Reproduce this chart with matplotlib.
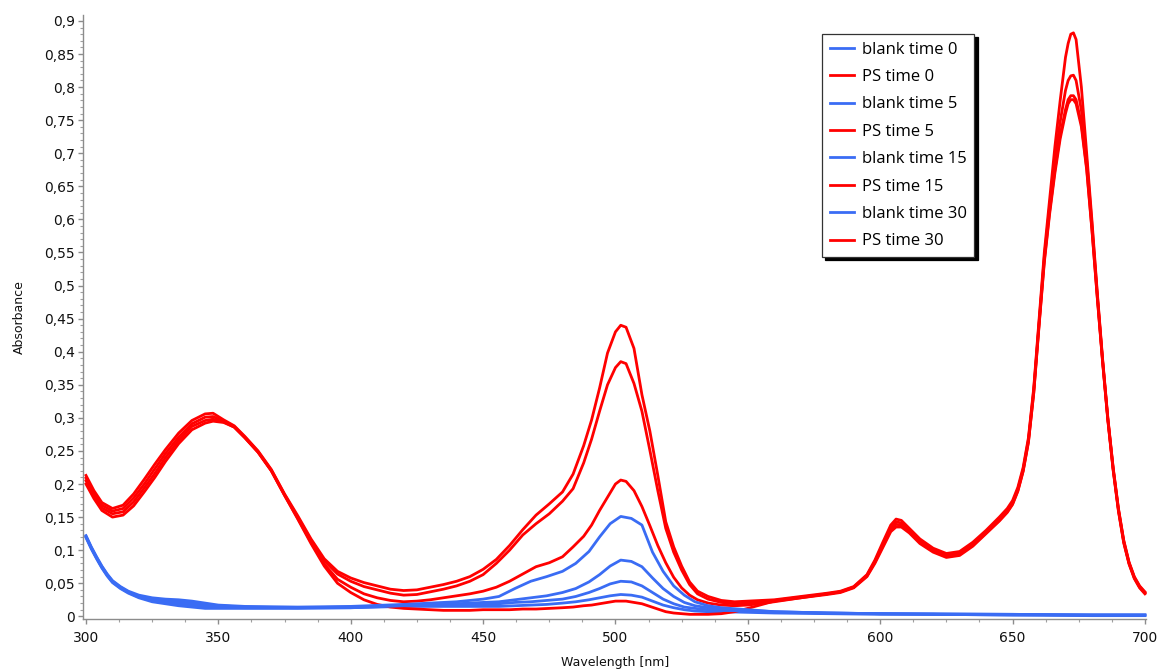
import matplotlib
matplotlib.use("Agg")
import matplotlib.pyplot as plt
from matplotlib.ticker import MultipleLocator, FuncFormatter

# ---------------- data ----------------
wl_blank = [300, 302, 304, 306, 308, 310, 313, 316, 320, 325,
            330, 335, 340, 345, 350, 360, 380, 400, 420, 430,
            440, 450, 456, 462, 468, 474, 480, 485, 490, 494,
            498, 502, 506, 510, 514, 518, 522, 526, 530, 535,
            540, 550, 560, 580, 600, 620, 650, 680, 700]

blank_t0 = [.119, .102, .087, .073, .061, .051, .042, .035, .028, .022,
            .019, .016, .014, .012, .012, .012, .012, .013, .015, .015,
            .015, .015, .015, .016, .017, .018, .020, .022, .025, .028,
            .031, .033, .032, .029, .023, .017, .013, .010, .008, .007,
            .007, .006, .005, .004, .003, .003, .002, .001, .001]
blank_t5 = [.120, .103, .088, .074, .062, .052, .043, .036, .029, .024,
            .021, .019, .017, .015, .014, .013, .013, .013, .016, .017,
            .017, .018, .019, .021, .022, .024, .026, .030, .036, .042,
            .049, .053, .052, .046, .036, .026, .019, .014, .012, .010,
            .009, .008, .006, .005, .004, .003, .002, .002, .002]
blank_t15 = [.121, .104, .089, .075, .063, .053, .044, .037, .030, .026,
             .024, .022, .020, .018, .016, .014, .013, .014, .017, .018,
             .019, .021, .022, .025, .028, .031, .036, .042, .052, .063,
             .076, .085, .083, .075, .058, .042, .030, .021, .016, .013,
             .011, .009, .007, .005, .004, .003, .003, .002, .002]
blank_t30 = [.122, .105, .090, .076, .064, .054, .045, .038, .032, .028,
             .026, .025, .023, .020, .017, .015, .014, .015, .018, .020,
             .022, .026, .030, .042, .053, .060, .068, .080, .098, .120,
             .140, .151, .148, .138, .097, .068, .046, .032, .022, .016,
             .013, .010, .007, .005, .004, .004, .003, .002, .002]

wl_ps = [300, 303, 306, 310, 314, 318, 322, 326, 330, 335,
         340, 345, 348, 352, 356, 360, 365, 370, 375, 380,
         385, 390, 395, 400, 405, 410, 415, 420, 425, 430,
         435, 440, 445, 450, 455, 460, 465, 470, 475, 480,
         484, 488, 491, 494, 497, 500, 502, 504, 507, 510,
         513, 516, 519, 522, 525, 528, 531, 535, 540, 545,
         550, 560, 570, 580, 585, 590, 595, 598, 601, 604,
         606, 608, 611, 615, 620, 625, 630, 635, 640, 645,
         648, 650, 652, 654, 656, 658, 660, 662, 664, 666,
         668, 670, 671, 672, 673, 674, 676, 678, 680, 682,
         684, 686, 688, 690, 692, 694, 696, 698, 700]

ps_t0 = [.200, .178, .160, .150, .153, .167, .188, .210, .234, .261,
         .282, .292, .295, .293, .286, .270, .248, .220, .183, .147,
         .110, .076, .050, .036, .025, .018, .014, .012, .011, .010,
         .009, .009, .009, .010, .010, .010, .011, .011, .012, .013,
         .014, .016, .017, .019, .021, .023, .023, .023, .021, .019,
         .015, .011, .007, .005, .004, .003, .003, .003, .004, .007,
         .012, .023, .028, .033, .036, .043, .060, .080, .104, .128,
         .135, .135, .126, .110, .097, .089, .092, .106, .125, .144,
         .157, .169, .189, .219, .263, .337, .438, .535, .608, .670,
         .722, .760, .775, .781, .781, .775, .740, .675, .583, .482,
         .385, .296, .221, .159, .111, .079, .057, .043, .034]
ps_t5 = [.205, .182, .164, .155, .158, .173, .194, .216, .240, .266,
         .287, .296, .298, .294, .286, .270, .248, .220, .183, .148,
         .112, .079, .056, .044, .034, .028, .024, .022, .023, .025,
         .028, .031, .034, .038, .044, .053, .064, .075, .081, .090,
         .105, .121, .138, .160, .180, .200, .206, .204, .190, .166,
         .137, .107, .081, .059, .043, .032, .025, .020, .017, .016,
         .017, .022, .028, .034, .037, .044, .061, .082, .107, .131,
         .139, .138, .128, .112, .099, .091, .094, .108, .126, .145,
         .158, .170, .190, .220, .264, .338, .440, .538, .612, .675,
         .728, .766, .781, .787, .787, .781, .745, .678, .585, .483,
         .386, .297, .222, .160, .112, .080, .058, .044, .035]
ps_t15 = [.209, .186, .168, .159, .163, .179, .200, .223, .246, .271,
          .291, .301, .302, .295, .287, .271, .249, .221, .184, .150,
          .115, .084, .064, .053, .045, .040, .035, .032, .033, .037,
          .041, .046, .053, .063, .080, .100, .123, .140, .155, .174,
          .193, .232, .268, .310, .350, .376, .385, .382, .352, .310,
          .251, .190, .133, .097, .070, .048, .034, .026, .021, .019,
          .020, .024, .029, .034, .037, .044, .062, .083, .109, .134,
          .143, .141, .130, .114, .101, .093, .096, .110, .128, .147,
          .160, .172, .192, .222, .267, .342, .443, .543, .620, .690,
          .748, .795, .810, .817, .818, .810, .765, .690, .592, .487,
          .388, .299, .224, .162, .114, .081, .059, .045, .036]
ps_t30 = [.213, .190, .172, .163, .168, .185, .207, .230, .252, .277,
          .296, .306, .307, .297, .288, .272, .250, .222, .185, .152,
          .117, .087, .068, .058, .051, .046, .041, .039, .040, .044,
          .048, .053, .060, .071, .086, .107, .131, .153, .170, .188,
          .215, .258, .297, .345, .398, .430, .440, .437, .405, .335,
          .280, .213, .143, .105, .076, .052, .038, .030, .024, .022,
          .023, .025, .030, .035, .038, .045, .063, .085, .112, .138,
          .147, .145, .133, .117, .103, .095, .098, .112, .130, .150,
          .163, .175, .195, .225, .270, .345, .448, .550, .630, .710,
          .780, .845, .866, .880, .882, .872, .800, .700, .598, .490,
          .390, .300, .225, .163, .115, .082, .060, .046, .037]

labels = ["blank time 0", "PS time 0", "blank time 5", "PS time 5",
          "blank time 15", "PS time 15", "blank time 30", "PS time 30"]

# ---------------- figure ----------------
BLUE = "#3a6cf4"
RED = "#ff0000"
W, H = 1165, 671
fig = plt.figure(figsize=(W / 100, H / 100), dpi=100)
ax = fig.add_axes([83 / W, 1 - 619.3 / H, (1146.5 - 83) / W, (619.3 - 15) / H])

series = [
    (wl_blank, blank_t0, BLUE), (wl_ps, ps_t0, RED),
    (wl_blank, blank_t5, BLUE), (wl_ps, ps_t5, RED),
    (wl_blank, blank_t15, BLUE), (wl_ps, ps_t15, RED),
    (wl_blank, blank_t30, BLUE), (wl_ps, ps_t30, RED),
]
for (x, y, c), lab in zip(series, labels):
    ax.plot(x, y, color=c, lw=2.0, label=lab, solid_joinstyle="round")

ax.set_xlim(298.87, 700.6)
ax.set_ylim(-0.0045, 0.909)

ax.xaxis.set_major_locator(MultipleLocator(50))
ax.xaxis.set_minor_locator(MultipleLocator(12.5))
ax.yaxis.set_major_locator(MultipleLocator(0.05))
ax.yaxis.set_minor_locator(MultipleLocator(0.01))


def comma_fmt(v, pos):
    s = "%g" % round(v, 3)
    return s.replace(".", ",")


ax.yaxis.set_major_formatter(FuncFormatter(comma_fmt))
ax.xaxis.set_major_formatter(FuncFormatter(lambda v, p: "%d" % round(v)))

for s in ["top", "right"]:
    ax.spines[s].set_visible(False)
for s in ["left", "bottom"]:
    ax.spines[s].set_color("#8c8c8c")
    ax.spines[s].set_linewidth(1.0)

ax.tick_params(axis="both", which="major", direction="out", length=3.5,
               width=1.0, color="#8c8c8c", labelsize=10, labelcolor="#111111")
ax.tick_params(axis="both", which="minor", direction="out", length=2,
               width=0.8, color="#a0a0a0")
ax.tick_params(axis="x", which="major", pad=5)
ax.tick_params(axis="y", which="major", pad=2.5)

ax.set_xlabel("Wavelength [nm]", fontsize=9, labelpad=7.5, color="#111111")
ax.set_ylabel("Absorbance", fontsize=9, labelpad=13, color="#111111")

leg = ax.legend(loc="upper left", bbox_to_anchor=(822 / W, 1 - 34 / H),
                bbox_transform=fig.transFigure, borderaxespad=0,
                frameon=True, fancybox=False, framealpha=1,
                edgecolor="#333333", facecolor="white",
                shadow={"ox": 2.5, "oy": -2.5, "facecolor": "black",
                        "edgecolor": "black", "alpha": 1},
                prop={"family": "Open Sans", "size": 12},
                handlelength=1.45, handletextpad=0.48, labelspacing=0.685,
                borderpad=0.45)
leg.get_frame().set_linewidth(0.9)

fig.savefig("out.png", dpi=100)
